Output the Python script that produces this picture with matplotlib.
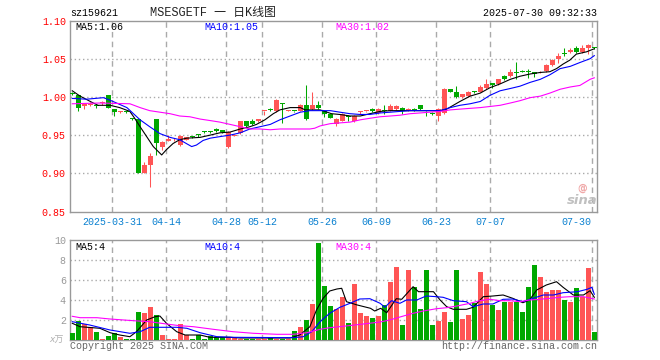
import matplotlib

matplotlib.use("Agg")

import matplotlib.pyplot as plt
from matplotlib.transforms import blended_transform_factory

W, H = 660, 360

# daily candles, oldest first (price)
opens = [1.005, 1.002, 0.988, 0.990, 0.989, 0.992, 1.002, 0.984, 0.980, 0.981,
         0.972, 0.971, 0.901, 0.911, 0.971, 0.934, 0.942, 0.943, 0.937, 0.944,
         0.948, 0.951, 0.955, 0.955, 0.958, 0.957, 0.934, 0.949, 0.953, 0.968,
         0.969, 0.968, 0.981, 0.984, 0.981, 0.992, 0.982, 0.982, 0.982, 0.989,
         0.984, 0.989, 0.982, 0.977, 0.964, 0.969, 0.975, 0.968, 0.980, 0.981,
         0.984, 0.979, 0.982, 0.982, 0.984, 0.986, 0.983, 0.984, 0.989, 0.978,
         0.979, 0.975, 0.979, 1.010, 1.007, 1.000, 1.001, 1.007, 1.007, 1.011,
         1.018, 1.017, 1.027, 1.027, 1.032, 1.033, 1.034, 1.032, 1.032, 1.034,
         1.042, 1.049, 1.057, 1.059, 1.064, 1.059, 1.064, 1.065]
closes = [1.004, 0.986, 0.991, 0.991, 0.988, 0.993, 0.986, 0.980, 0.981, 0.980,
          0.971, 0.901, 0.911, 0.923, 0.940, 0.941, 0.945, 0.944, 0.949, 0.947,
          0.947, 0.950, 0.954, 0.954, 0.955, 0.954, 0.954, 0.950, 0.968, 0.962,
          0.964, 0.971, 0.982, 0.9835, 0.996, 0.991, 0.982, 0.981, 0.989, 0.971,
          0.989, 0.985, 0.978, 0.973, 0.971, 0.978, 0.974, 0.975, 0.980, 0.982,
          0.981, 0.984, 0.9815, 0.988, 0.988, 0.981, 0.984, 0.983, 0.984, 0.977,
          0.977, 0.984, 1.010, 1.007, 1.000, 1.004, 1.007, 1.006, 1.013, 1.017,
          1.015, 1.023, 1.023, 1.032, 1.0315, 1.0325, 1.032, 1.030, 1.032, 1.042,
          1.048, 1.054, 1.0565, 1.062, 1.059, 1.064, 1.068, 1.064]
highs = [1.006, 1.003, 0.991, 0.993, 0.991, 0.994, 1.002, 0.984, 0.982, 0.982,
         0.972, 0.971, 0.915, 0.927, 0.971, 0.942, 0.950, 0.946, 0.950, 0.948,
         0.949, 0.952, 0.956, 0.955, 0.959, 0.957, 0.955, 0.951, 0.969, 0.968,
         0.971, 0.971, 0.982, 0.986, 0.997, 0.992, 0.983, 0.982, 0.991, 1.016,
         1.007, 0.995, 0.982, 0.977, 0.972, 0.979, 0.976, 0.976, 0.982, 0.982,
         0.985, 0.986, 0.989, 0.991, 0.989, 0.987, 0.985, 0.985, 0.990, 0.981,
         0.980, 0.985, 1.011, 1.010, 1.014, 1.004, 1.008, 1.008, 1.016, 1.024,
         1.018, 1.024, 1.029, 1.036, 1.046, 1.035, 1.037, 1.032, 1.034, 1.043,
         1.049, 1.058, 1.064, 1.064, 1.067, 1.068, 1.069, 1.065]
lows = [1.002, 0.982, 0.984, 0.988, 0.986, 0.990, 0.985, 0.975, 0.979, 0.979,
        0.970, 0.900, 0.900, 0.882, 0.924, 0.931, 0.942, 0.942, 0.936, 0.943,
        0.946, 0.948, 0.953, 0.953, 0.954, 0.953, 0.933, 0.949, 0.952, 0.961,
        0.963, 0.967, 0.976, 0.981, 0.980, 0.966, 0.981, 0.980, 0.981, 0.970,
        0.983, 0.984, 0.974, 0.972, 0.962, 0.968, 0.968, 0.967, 0.977, 0.980,
        0.980, 0.978, 0.978, 0.981, 0.983, 0.977, 0.982, 0.982, 0.983, 0.975,
        0.976, 0.968, 0.978, 1.006, 0.999, 0.999, 1.000, 1.005, 1.006, 1.010,
        1.011, 1.016, 1.022, 1.026, 1.024, 1.032, 1.025, 1.026, 1.031, 1.033,
        1.041, 1.045, 1.054, 1.058, 1.058, 1.058, 1.056, 1.063]
# volume, in 10k lots
volumes = [0.73, 1.93, 1.6, 1.33, 0.8, 0.13, 0.43, 0.67, 0.33, 0.13,
           0.13, 2.8, 2.67, 3.3, 2.5, 0.5, 0.13, 0.13, 1.6, 0.47,
           0.13, 0.47, 0.13, 0.4, 0.33, 0.27, 0.27, 0.33, 0.13, 0.13,
           0.13, 0.13, 0.13, 0.33, 0.13, 0.13, 0.13, 0.93, 1.33, 2.0,
           3.6, 9.73, 5.43, 3.43, 3.1, 4.33, 1.73, 5.6, 2.73, 2.43,
           2.23, 2.43, 3.53, 5.83, 7.33, 1.53, 7.03, 5.27, 3.13, 7.03,
           1.53, 1.93, 2.83, 1.8, 7.03, 2.13, 2.53, 3.67, 6.83, 5.63,
           3.53, 3.03, 3.83, 3.83, 3.83, 2.83, 5.33, 7.5, 6.33, 4.83,
           5.0, 5.0, 4.0, 3.83, 5.2, 4.27, 7.2, 0.8]

# moving averages (bar index, value)
ma5_idx = [0, 1.3, 3.5, 4.3, 6.3, 7.9, 9.6, 10.4, 11.3, 12.4, 13.5, 14.9, 15.7, 16.8, 17.9,
           19.1, 21.3, 23, 24.6, 26.3, 28, 29.6, 30.7, 32.1, 33.5, 34.6, 36.3, 38, 38.8,
           41.3, 42.1, 43.2, 44.6, 46.3, 48, 49.6, 51.3, 53, 56.3, 59.6, 61.3, 62.4, 63.5,
           64.6, 66.3, 68, 69.6, 71.3, 73, 74.6, 76.3, 78, 79.6, 80.7, 81.8, 82.9, 84,
           85.7, 87]
ma5_val = [1.008, 1.001, 0.992, 0.989, 0.989, 0.986, 0.981, 0.972, 0.961, 0.948, 0.935, 0.924,
           0.931, 0.939, 0.944, 0.946, 0.947, 0.950, 0.953, 0.954, 0.958, 0.961, 0.964, 0.970,
           0.978, 0.983, 0.986, 0.986, 0.983, 0.983, 0.981, 0.978, 0.977, 0.975, 0.975, 0.978,
           0.981, 0.982, 0.982, 0.982, 0.982, 0.984, 0.989, 0.994, 1.001, 1.005, 1.012, 1.017,
           1.023, 1.027, 1.030, 1.032, 1.033, 1.037, 1.043, 1.048, 1.056, 1.059, 1.063]
ma10_idx = [0, 2.4, 5.2, 6.8, 9.1, 11.3, 12.9, 14.6, 16.3, 17.9, 19, 19.9, 20.7, 21.8, 23,
            24.6, 26.3, 28, 29.6, 31.3, 33, 34.6, 36.3, 38, 39.6, 41.3, 43, 44.6, 46.3, 48,
            49.6, 51.3, 53, 54.6, 56.3, 58, 59.6, 61.3, 63, 64.6, 66.3, 68, 69.6, 71.3, 73,
            74.6, 76.3, 78, 79.6, 81.3, 83, 84.6, 86.3, 87]
ma10_val = [0.998, 0.997, 0.999, 0.994, 0.986, 0.970, 0.961, 0.952, 0.947, 0.944, 0.939, 0.935,
            0.937, 0.943, 0.946, 0.948, 0.950, 0.953, 0.958, 0.961, 0.964, 0.970, 0.975, 0.980,
            0.982, 0.982, 0.982, 0.980, 0.978, 0.977, 0.977, 0.979, 0.980, 0.981, 0.982, 0.982,
            0.982, 0.982, 0.986, 0.989, 0.991, 0.994, 1.002, 1.008, 1.011, 1.014, 1.019, 1.023,
            1.029, 1.037, 1.040, 1.045, 1.050, 1.054]
ma30_idx = [0, 4.6, 9.6, 11.3, 12.9, 14.6, 16.3, 17.9, 19.6, 21.3, 23, 24.6, 26.3, 28, 29.6,
            31.3, 33, 34.6, 39.6, 40.4, 41.3, 43, 46.3, 48, 49.6, 51.3, 53, 54.6, 56.3, 58,
            59.6, 61.3, 63, 64.6, 66.3, 68, 71.3, 73, 74.6, 76.3, 78, 79.6, 81.3, 83, 84.6,
            86.3, 87]
ma30_val = [0.991, 0.992, 0.991, 0.986, 0.982, 0.980, 0.978, 0.975, 0.974, 0.971, 0.969, 0.967,
            0.964, 0.961, 0.958, 0.958, 0.957, 0.958, 0.958, 0.959, 0.962, 0.965, 0.967, 0.970,
            0.972, 0.974, 0.975, 0.976, 0.978, 0.979, 0.980, 0.981, 0.983, 0.984, 0.985, 0.986,
            0.989, 0.992, 0.995, 0.999, 1.001, 1.005, 1.010, 1.013, 1.015, 1.023, 1.025]

vma5_idx = [0, 1.3, 4.6, 6.3, 7.9, 9.6, 10.7, 12.4, 13.8, 14.6, 15.7, 17.4, 18.8, 21.3, 22.9,
            26.3, 28, 36.3, 37.9, 39.6, 40.7, 41.8, 42.9, 44.1, 44.9, 45.7, 47.5, 49.7, 50.4,
            51.4, 52.4, 54, 54.9, 56.8, 57.7, 60.2, 61.3, 62.4, 63.5, 65.7, 66.8, 68.5, 70.1,
            71.8, 73.4, 75.1, 76.2, 77.4, 79, 80.7, 81.8, 83.5, 85.2, 86.3, 87]
vma5_val = [1.67, 1.33, 1.17, 0.73, 0.5, 0.33, 0.83, 2.0, 2.33, 2.4, 1.67, 0.83, 0.5, 0.5, 0.27,
            0.27, 0.2, 0.2, 0.5, 1.33, 3.0, 4.17, 4.9, 5.1, 5.17, 3.83, 3.5, 3.17, 2.9,
            3.17, 2.73, 4.13, 4.07, 5.33, 4.83, 4.83, 4.0, 3.33, 3.07, 3.07, 3.27, 4.33, 4.4,
            4.5, 4.17, 3.73, 4.0, 5.0, 5.5, 5.83, 5.27, 4.5, 4.5, 4.93, 4.27]
vma10_idx = [0, 2.9, 6.3, 9.6, 11.3, 12.9, 14.6, 17.4, 19.1, 21.3, 24.1, 26.8, 36.8, 38.5, 39.9,
             41.3, 42.9, 44.6, 46.3, 47.9, 49.6, 51.3, 52.1, 53.2, 54.6, 55.7, 57.4, 59, 60.7,
             61.8, 63.5, 65.7, 66.8, 68.5, 70.1, 71.8, 73.4, 75.1, 76.8, 78.5, 80.2, 81.8, 84.2,
             85.8, 86.6, 87]
vma10_val = [1.83, 1.5, 1.0, 0.67, 0.83, 1.27, 1.27, 1.27, 1.17, 0.73, 0.33, 0.27, 0.23, 0.33, 0.83,
             1.83, 2.67, 3.27, 3.67, 4.1, 4.13, 3.67, 3.27, 3.93, 3.67, 4.0, 4.0, 4.4, 4.33,
             4.27, 3.93, 3.83, 3.33, 3.6, 3.6, 4.07, 4.1, 3.83, 4.17, 4.5, 4.5, 4.73, 4.83,
             5.07, 5.27, 4.57]
vma30_idx = [0, 1.3, 4.1, 6.3, 10.2, 12.9, 15.7, 17.9, 20.2, 23.5, 26.8, 30.2, 34.1, 36.8, 39.1,
             41.3, 42.9, 45.6, 48.5, 51.3, 52.9, 55.2, 56.8, 58.5, 60.7, 62.4, 64.1, 66.3, 67.9,
             69.6, 71.3, 72.9, 74.6, 76.2, 77.9, 79.6, 81.3, 82.9, 85.2, 87]
vma30_val = [2.37, 2.23, 2.23, 2.1, 1.93, 1.83, 1.6, 1.43, 1.33, 1.07, 0.83, 0.67, 0.57, 0.57, 0.73,
             1.07, 1.23, 1.4, 1.6, 1.8, 2.0, 2.4, 2.67, 2.9, 3.13, 3.23, 3.4, 3.67, 3.93,
             4.07, 3.93, 3.93, 3.83, 4.0, 4.07, 4.17, 4.27, 4.33, 4.33, 4.1]

date_labels = ["2025-03-31", "04-14", "04-28", "05-12", "05-26", "06-09", "06-23", "07-07", "07-30"]
date_idx = [7, 16, 26, 32, 42, 51, 61, 70, 87]
price_ticks = [0.85, 0.90, 0.95, 1.00, 1.05, 1.10]
vol_ticks = [2, 4, 6, 8, 10]

UP = "#ff5555"
DOWN = "#00a800"
GRID = "#aaaaaa"
MONO = "Liberation Mono"
FS = 7.2


def fx(px):
    return px / W


def fy(py):
    return 1 - py / H


fig = plt.figure(figsize=(W / 100, H / 100), dpi=100)
fig.patch.set_facecolor("white")

main = fig.add_axes([fx(70), fy(211.5), 527 / W, 191 / H])
vol = fig.add_axes([fx(70), fy(340), 527 / W, 100 / H])

n = len(closes)
xs = list(range(n))
colors = [UP if c >= o else DOWN for o, c in zip(opens, closes)]

# candles: wicks first, bodies on top
main.vlines(xs, lows, highs, colors=colors, lw=0.75, zorder=3)
bottoms = [min(o, c) for o, c in zip(opens, closes)]
heights = [max(abs(c - o), 0.0012) for o, c in zip(opens, closes)]
main.bar(xs, heights, bottom=bottoms, width=0.8, color=colors, linewidth=0, zorder=4)

main.plot(ma5_idx, ma5_val, color="black", lw=0.8, zorder=5)
main.plot(ma10_idx, ma10_val, color="#0000ff", lw=0.8, zorder=5)
main.plot(ma30_idx, ma30_val, color="#ff00ff", lw=0.8, zorder=5)

# volume
vol.bar(xs, volumes, width=0.82, color=colors, linewidth=0, zorder=3)
vol.plot(vma5_idx, vma5_val, color="black", lw=0.8, zorder=5)
vol.plot(vma10_idx, vma10_val, color="#0000ff", lw=0.8, zorder=5)
vol.plot(vma30_idx, vma30_val, color="#ff00ff", lw=0.8, zorder=5)

grid_x = [d - 0.33 for d in date_idx]
for ax in (main, vol):
    ax.set_xlim(-0.38, 87.45)
    for gx in grid_x:
        ax.axvline(gx, color=GRID, lw=1.0, ls=(0, (4, 3)), zorder=1)
    for s in ax.spines.values():
        s.set_color("#999999")
        s.set_linewidth(1.0)
    ax.set_xticks([])
    ax.tick_params(axis="y", length=0, pad=3)

main.set_ylim(0.85, 1.10)
main.set_yticks(price_ticks)
main.set_yticklabels([f"{t:.2f}" for t in price_ticks], color="#ff0000",
                     fontsize=FS, family=MONO)
for t in price_ticks[1:-1]:
    main.axhline(t, color=GRID, lw=1.0, ls=(0, (1, 2)), zorder=1)

vol.set_ylim(0, 10)
vol.set_yticks(vol_ticks)
vol.set_yticklabels([str(t) for t in vol_ticks], color="#999999", fontsize=FS, family=MONO)
for t in vol_ticks[:-1]:
    vol.axhline(t, color=GRID, lw=1.0, ls=(0, (1, 2)), zorder=1)

# date labels under the price panel
trans = blended_transform_factory(main.transData, main.transAxes)
for lab, gx in zip(date_labels, grid_x):
    if lab == date_labels[-1]:
        main.text(gx - 0.2, -0.053, lab, transform=trans, ha="right", va="center",
                  color="#0a80d0", fontsize=FS, family=MONO)
    else:
        main.text(gx, -0.053, lab, transform=trans, ha="center", va="center",
                  color="#0a80d0", fontsize=FS, family=MONO)

# header
fig.text(fx(70), fy(13), "sz159621", ha="left", va="center", fontsize=FS, family=MONO)
fig.text(fx(213), fy(13), "MSESGETF 一 日K线图", ha="center", va="center", fontsize=8.6,
         family=["Liberation Mono", "Noto Sans CJK SC"], color="#222222")
fig.text(fx(597), fy(13), "2025-07-30 09:32:33", ha="right", va="center", fontsize=FS,
         family=MONO)

fig.text(fx(75), fy(26.5), f"MA5:{ma5_val[-1]:.2f}", ha="left", va="center", fontsize=FS,
         family=MONO, color="black")
fig.text(fx(204), fy(26.5), f"MA10:{ma10_val[-1]:.2f}", ha="left", va="center", fontsize=FS,
         family=MONO, color="#0000ff")
fig.text(fx(335), fy(26.5), f"MA30:{ma30_val[-1]:.2f}", ha="left", va="center", fontsize=FS,
         family=MONO, color="#ff00ff")

fig.text(fx(75), fy(246.5), f"MA5:{int(vma5_val[-1])}", ha="left", va="center", fontsize=FS,
         family=MONO, color="black")
fig.text(fx(204), fy(246.5), f"MA10:{int(vma10_val[-1])}", ha="left", va="center", fontsize=FS,
         family=MONO, color="#0000ff")
fig.text(fx(335), fy(246.5), f"MA30:{int(vma30_val[-1])}", ha="left", va="center", fontsize=FS,
         family=MONO, color="#ff00ff")

fig.text(fx(64), fy(340), "x万", ha="right", va="center", fontsize=6.5, style="italic",
         family=["DejaVu Sans", "Noto Sans CJK SC"], color="#b0b0b0")

fig.text(fx(70), fy(346), "Copyright 2025 SINA.COM", ha="left", va="center", fontsize=FS,
         family=MONO, color="#666666")
fig.text(fx(597), fy(346), "http://finance.sina.com.cn", ha="right", va="center",
         fontsize=FS, family=MONO, color="#666666")

# sina watermark
fig.text(fx(582), fy(188), "@", ha="center", va="center", fontsize=7, color="#f0a8a8",
         fontweight="bold")
fig.text(fx(582), fy(200), "sina", ha="center", va="center", fontsize=9.5, color="#c0c0c0",
         fontweight="bold", style="italic")

fig.savefig("out.png", dpi=100)
